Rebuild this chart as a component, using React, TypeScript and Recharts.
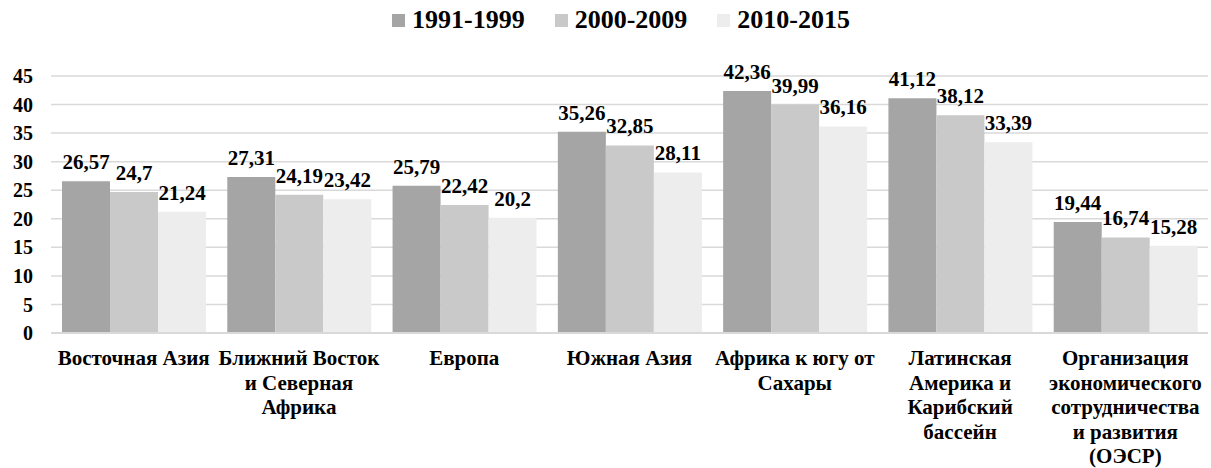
import React from 'react';
import { BarChart, Bar, XAxis, YAxis, CartesianGrid, Legend, LabelList } from 'recharts';

const REGIONS = [
  'Восточная Азия',
  'Ближний Восток\nи Северная\nАфрика',
  'Европа',
  'Южная Азия',
  'Африка к югу от\nСахары',
  'Латинская\nАмерика и\nКарибский\nбассейн',
  'Организация\nэкономического\nсотрудничества\nи развития\n(ОЭСР)',
];

const P1991 = [26.57, 27.31, 25.79, 35.26, 42.36, 41.12, 19.44];
const P2000 = [24.7, 24.19, 22.42, 32.85, 39.99, 38.12, 16.74];
const P2010 = [21.24, 23.42, 20.2, 28.11, 36.16, 33.39, 15.28];

const SERIES = [
  { key: 'p1991', name: '1991-1999', color: '#a5a5a5' },
  { key: 'p2000', name: '2000-2009', color: '#c9c9c9' },
  { key: 'p2010', name: '2010-2015', color: '#ededed' },
];

const Y_TICKS = [0, 5, 10, 15, 20, 25, 30, 35, 40, 45];

const data = REGIONS.map((region, i) => ({
  region,
  p1991: P1991[i],
  p2000: P2000[i],
  p2010: P2010[i],
}));

const FONT = 'Tinos, "Noto Serif", FreeSerif, "Liberation Serif", "DejaVu Serif", Georgia, serif';

const fmt = (v: any) => String(v).replace('.', ',');

const CategoryTick = (props: any) => {
  const { x, y, payload } = props;
  const lines = String(payload.value).split('\n');
  return (
    <text x={x} y={y} textAnchor="middle" style={{ fontFamily: FONT }} fontWeight="bold" fontSize={21} fill="#000">
      {lines.map((line, i) => (
        <tspan key={i} x={x} dy={i === 0 ? 24 : 24.5}>{line}</tspan>
      ))}
    </text>
  );
};

const LegendContent = () => (
  <div style={{ height: 76, display: 'flex', justifyContent: 'center', alignItems: 'flex-start', paddingTop: 5, boxSizing: 'border-box', marginLeft: 34 }}>
    {SERIES.map((s) => (
      <div key={s.key} style={{ display: 'flex', alignItems: 'center', margin: '0 15px' }}>
        <div style={{ width: 13, height: 13, background: s.color, marginRight: 7 }} />
        <span style={{ fontFamily: FONT, fontWeight: 'bold', fontSize: 26, color: '#000' }}>{s.name}</span>
      </div>
    ))}
  </div>
);

export default function App() {
  return (
    <div style={{ position: 'absolute', left: 0, top: 0, background: '#fff' }}>
      <BarChart
        width={1211}
        height={468}
        data={data}
        margin={{ top: 0, right: 3, bottom: 5, left: 0 }}
        barCategoryGap={11}
        barGap={0}
      >
        <Legend verticalAlign="top" content={<LegendContent />} />
        <CartesianGrid vertical={false} stroke="#d9d9d9" strokeWidth={1.5} />
        <XAxis
          dataKey="region"
          height={130}
          interval={0}
          tickLine={false}
          axisLine={{ stroke: '#d9d9d9', strokeWidth: 2 }}
          tick={<CategoryTick />}
        />
        <YAxis
          width={51}
          domain={[0, 45]}
          ticks={Y_TICKS}
          interval={0}
          axisLine={false}
          tickLine={false}
          tickMargin={12}
          tick={{ fill: '#000', fontSize: 20, fontWeight: 'bold', style: { fontFamily: FONT } }}
        />
        {SERIES.map((s) => (
          <Bar key={s.key} dataKey={s.key} name={s.name} fill={s.color} isAnimationActive={false}>
            <LabelList
              dataKey={s.key}
              position="top"
              offset={12}
              formatter={fmt}
              style={{ fill: '#000', fontSize: 21, fontWeight: 'bold', fontFamily: FONT }}
            />
          </Bar>
        ))}
      </BarChart>
    </div>
  );
}
